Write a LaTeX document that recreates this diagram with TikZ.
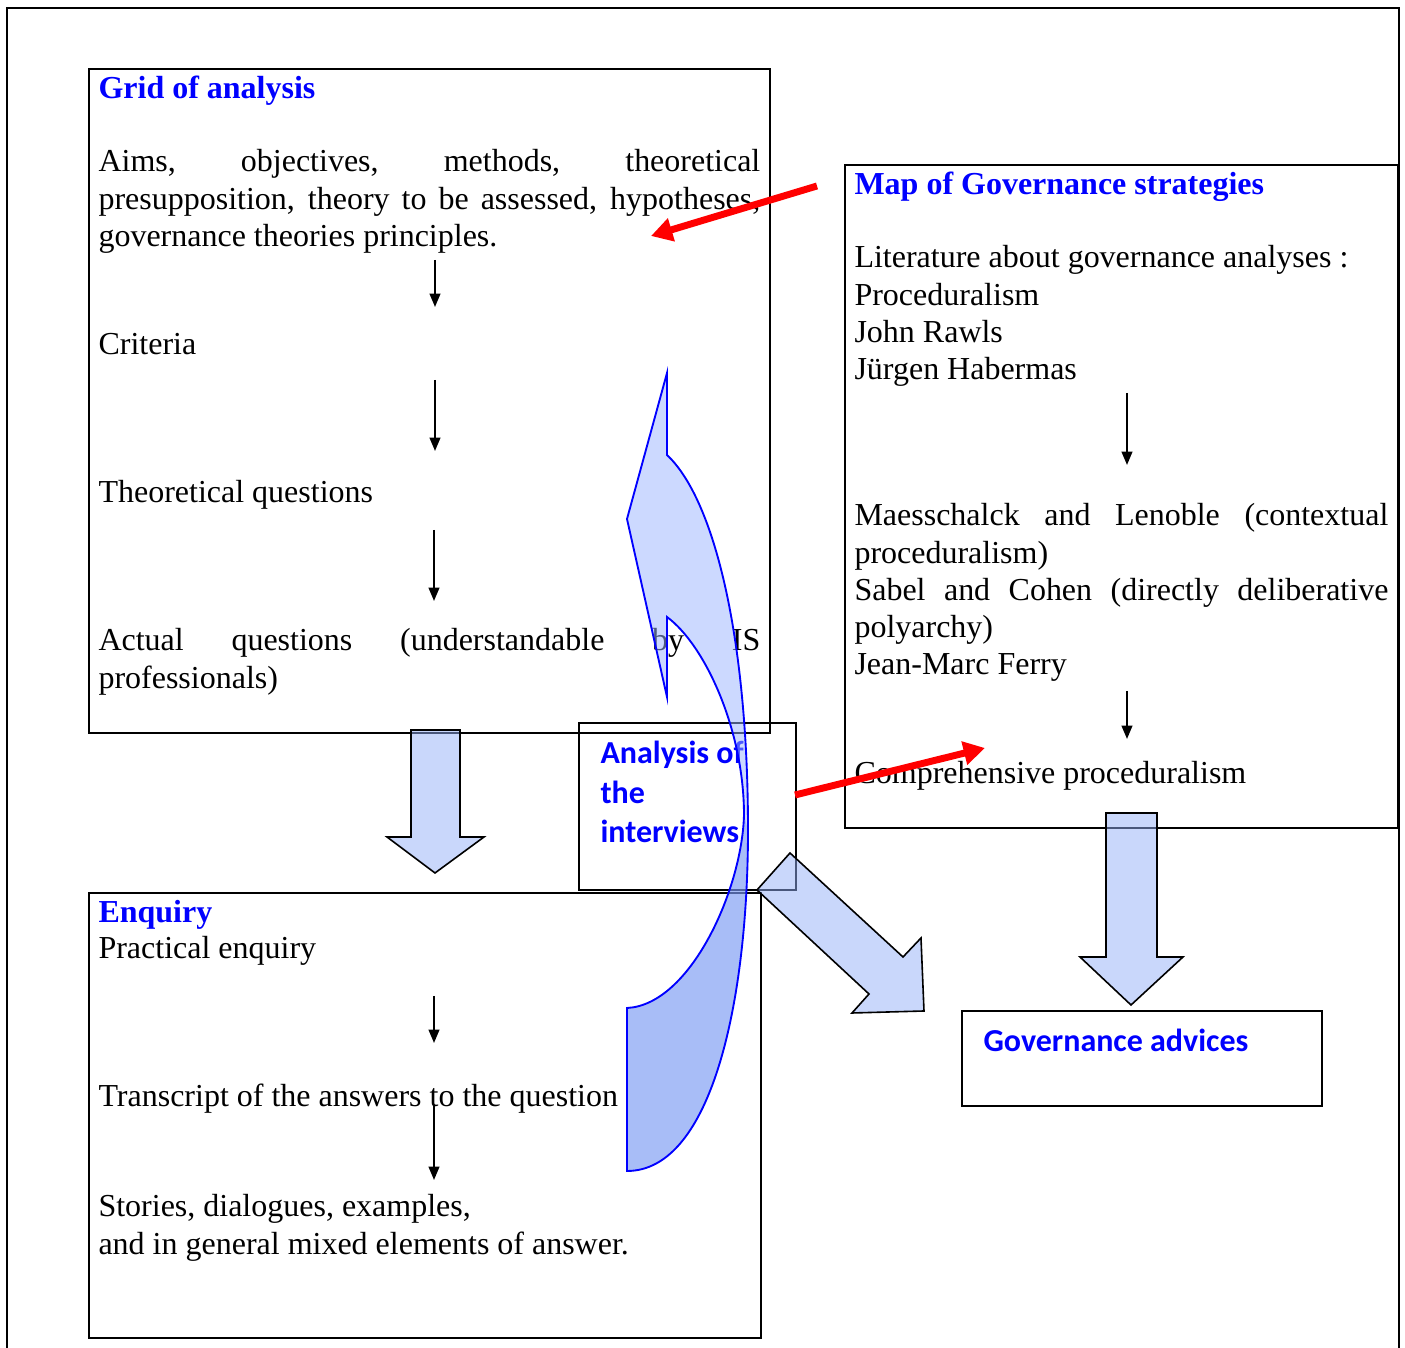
\documentclass[tikz,border=0pt]{standalone}
\usepackage{fontspec}
\setmainfont{Liberation Serif}
\newfontfamily\calibri{Carlito}
\usepackage{xcolor}
\usepackage{tikz}
\usetikzlibrary{arrows.meta}
\definecolor{headblue}{RGB}{0,0,255}
\definecolor{blockfill}{RGB}{147,175,247}
\definecolor{curvefill}{RGB}{153,180,255}
\definecolor{curveshade}{RGB}{87,123,231}

\begin{document}
\begin{tikzpicture}[x=0.01318cm, y=-0.01318cm,
  font=\fontsize{12}{13.9}\selectfont,
  txt/.style={anchor=base west, inner sep=0pt},
  para/.style={txt, align=justify},
  lines/.style={txt, align=flush left},
  head/.style={txt, text=headblue, font=\fontsize{12}{13.9}\selectfont\bfseries},
  sanshead/.style={lines, text=headblue, font=\calibri\bfseries\fontsize{12}{14.7}\selectfont},
  box/.style={draw, line width=0.75pt},
  down/.style={-{Triangle[length=5pt,width=4pt]}, line width=0.75pt},
  redarrow/.style={-{Triangle[length=8pt,width=8.6pt]}, draw=red, line width=2.6pt},
  block/.style={draw, line width=0.6pt, fill=blockfill, fill opacity=0.5}]
\useasboundingbox (0,0) rectangle (1405,1348);
\draw[line width=0.8pt] (7,1348) -- (7,8) -- (1399,8) -- (1399,1348);

\draw[box] (89,69) rectangle (770,733);
\draw[box] (845,165) rectangle (1398,828);
\draw[box] (579,723) rectangle (796,890);
\draw[box] (89,893) rectangle (761,1338);
\draw[box] (962,1011) rectangle (1322,1106);

\node[head] (gridtitle) at (98,99) {Grid of analysis};
\node[para, text width=8.725cm] (aims) at (98,172) {Aims, objectives, methods, theoretical\linebreak presupposition, theory to be assessed, hypotheses,\linebreak governance theories principles.};
\node[txt] (criteria) at (98,355) {Criteria};
\node[txt] (theoq) at (98,503) {Theoretical questions};
\node[para, text width=8.725cm] (actualq) at (98,651) {Actual questions (understandable by IS\linebreak professionals)};

\node[head] (maptitle) at (854,195) {Map of Governance strategies};
\node[lines, text width=7.038cm] (literature) at (854,268) {Literature about governance analyses :\\Proceduralism\\John Rawls\\Jürgen Habermas};
\node[para, text width=7.038cm] (authors) at (854,526) {Maesschalck and Lenoble (contextual\linebreak proceduralism)\\Sabel and Cohen (directly deliberative\linebreak polyarchy)\\Jean-Marc Ferry};
\node[txt] (compproc) at (854,784) {Comprehensive proceduralism};

\node[head] (enqtitle) at (98,923) {Enquiry};
\node[txt] (practical) at (98,959) {Practical enquiry};
\node[txt] (transcript) at (98,1107) {Transcript of the answers to the question};
\node[lines, text width=8.725cm] (stories) at (98,1217) {Stories, dialogues, examples,\\and in general mixed elements of answer.};

\node[sanshead, text width=2.6cm] (analysis) at (600,764) {Analysis of\\the\\interviews};
\node[txt, text=headblue, font=\calibri\bfseries\fontsize{12}{14.7}\selectfont] (advices) at (983,1052) {Governance advices};

\foreach \n/\x/\a/\b in {ga/435/260/307, gb/435/380/451, gc/434/530/601,
    ma/1127/393/465, mb/1127/691/739, ea/434/996/1043, eb/434/1105/1180}{
  \coordinate (\n top) at (\x,\a);
  \coordinate (\n bot) at (\x,\b);
  \draw[down] (\n top) -- (\n bot);
}

\draw[block] (411,730) -- (460,730) -- (460,837) -- (484,837) -- (435,873) -- (387,837) -- (411,837) -- cycle;
\draw[block] (1106,813) -- (1157,813) -- (1157,957) -- (1183,957) -- (1131,1005) -- (1080,957) -- (1106,957) -- cycle;
\draw[block] (757,890) -- (790,853) -- (903,957) -- (921,938) -- (924,1011) -- (852,1013) -- (869,994) -- cycle;

\fill[curvefill, fill opacity=0.5] (627,1171) -- (627,1008) .. controls (690,1005) and (742,890) .. (744,815)
  .. controls (744,730) and (705,645) .. (667,617) -- (667,697) -- (627,519) -- (667,373) -- (667,455)
  .. controls (715,500) and (748,640) .. (748,830) .. controls (748,1000) and (712,1171) .. (627,1171) -- cycle;
\fill[curveshade, fill opacity=0.3] (744,815) .. controls (742,890) and (690,1005) .. (627,1008) -- (627,1171)
  .. controls (712,1171) and (748,1000) .. (748,830) -- cycle;
\draw[headblue, line width=0.7pt] (627,1171) -- (627,1008) .. controls (690,1005) and (742,890) .. (744,815)
  .. controls (744,730) and (705,645) .. (667,617) -- (667,697) -- (627,519) -- (667,373) -- (667,455)
  .. controls (715,500) and (748,640) .. (748,830) .. controls (748,1000) and (712,1171) .. (627,1171) -- cycle;

\coordinate (mapfrom) at (817,186);
\coordinate (gridto) at (651,236);
\coordinate (anafrom) at (795,795);
\coordinate (compto) at (985,748);
\draw[redarrow] (mapfrom) -- (gridto);
\draw[redarrow] (anafrom) -- (compto);
\end{tikzpicture}
\end{document}
